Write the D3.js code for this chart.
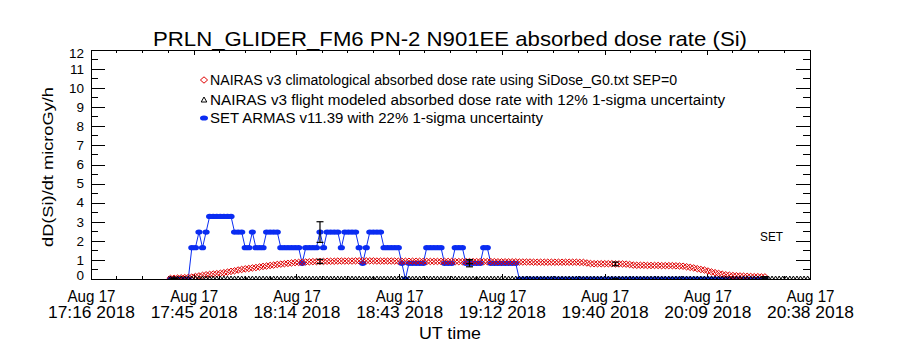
<!DOCTYPE html>
<html><head><meta charset="utf-8">
<script src="https://cdn.jsdelivr.net/npm/d3@7"></script>
<style>body{margin:0;background:#fff}svg{display:block}text{font-family:"Liberation Sans",Arial,Helvetica,sans-serif;fill:#000}</style>
</head><body><svg id="c" width="900" height="350"></svg>
<script>
// ---------- data ----------
const titleText = "PRLN_GLIDER_FM6 PN-2 N901EE absorbed dose rate (Si)";
const yTitle = "dD(Si)/dt microGy/h";
const xTitle = "UT time";
const legendLabels = [
  "NAIRAS v3 climatological absorbed dose rate using SiDose_G0.txt SEP=0",
  "NAIRAS v3 flight modeled absorbed dose rate with 12% 1-sigma uncertainty",
  "SET ARMAS v11.39 with 22% 1-sigma uncertainty"
];
const xTickTimes = ["2018-08-17T17:16:40Z","2018-08-17T17:45:31Z","2018-08-17T18:14:23Z","2018-08-17T18:43:14Z",
                    "2018-08-17T19:12:06Z","2018-08-17T19:40:57Z","2018-08-17T20:09:49Z","2018-08-17T20:38:40Z"];
const yTickValues = [0,1,2,3,4,5,6,7,8,9,10,11,12];
const seriesStart = "2018-08-17T17:39:00Z";   // one sample per minute
const climValues = [
  0.03,0.04,0.05,0.06,0.07,0.08,0.10,0.13,0.16,0.19,
  0.22,0.24,0.26,0.28,0.30,0.33,0.36,0.40,0.43,0.47,
  0.50,0.53,0.55,0.58,0.60,0.63,0.66,0.68,0.71,0.73,
  0.76,0.78,0.80,0.82,0.84,0.86,0.87,0.88,0.89,0.90,
  0.91,0.91,0.92,0.92,0.93,0.93,0.93,0.94,0.94,0.94,
  0.94,0.94,0.95,0.95,0.95,0.95,0.95,0.95,0.94,0.94,
  0.94,0.94,0.94,0.94,0.93,0.93,0.93,0.93,0.93,0.93,
  0.93,0.92,0.92,0.92,0.92,0.92,0.92,0.92,0.92,0.92,
  0.91,0.91,0.91,0.91,0.91,0.91,0.91,0.91,0.91,0.91,
  0.91,0.91,0.90,0.90,0.90,0.90,0.90,0.90,0.89,0.89,
  0.89,0.89,0.88,0.88,0.88,0.88,0.88,0.88,0.88,0.88,
  0.88,0.88,0.88,0.88,0.88,0.87,0.87,0.84,0.81,0.80,
  0.80,0.80,0.80,0.80,0.80,0.79,0.79,0.79,0.78,0.76,
  0.73,0.72,0.72,0.72,0.71,0.71,0.71,0.71,0.70,0.70,
  0.70,0.70,0.69,0.68,0.67,0.64,0.61,0.58,0.54,0.50,
  0.47,0.42,0.37,0.33,0.29,0.25,0.22,0.20,0.18,0.17,
  0.16,0.15,0.14,0.13,0.12,0.12,0.11,0.11
];
const flightValues = [
  0,0,0,0,0,0,0,0,0,0, 0,0,0,0,0,0,0,0,0,0, 0,0,0,0,0,0,0,0,0,0,
  0,0,0,0,0,0,0,0,0,0, 0,0,0,0,0,0,0,0,0,0, 0,0,0,0,0,0,0,0,0,0,
  0,0,0,0,0,0,0,0,0,0, 0,0,0,0,0,0,0,0,0,0, 0,0,0,0,0,0,0,0,0,0,
  0,0,0,0,0,0,0,0,0,0, 0,0,0,0,0,0,0,0,0,0, 0,0,0,0,0,0,0,0,0,0,
  0,0,0,0,0,0,0,0,0,0, 0,0,0,0,0,0,0,0,0,0, 0,0,0,0,0,0,0,0,0,0,
  0,0,0,0,0,0,0,0,0,0, 0,0,0,0,0,0,0,0,0,0, 0,0,0,0,0,0,0,0,0,0,
  0,0,0,0,0,0,0,0
];
const setValues = [
  0,0,0,0,0,0,1.64,1.64,2.46,1.64,
  2.46,3.28,3.28,3.28,3.28,3.28,3.28,3.28,2.46,2.46,
  2.46,1.64,1.64,2.46,1.64,1.64,1.64,2.46,2.46,2.46,
  2.46,1.64,1.64,1.64,1.64,1.64,1.64,0.82,1.64,1.64,
  1.64,1.64,2.46,1.64,2.46,2.46,2.46,2.46,1.64,2.46,
  2.46,2.46,2.46,1.64,0.82,1.64,2.46,2.46,2.46,2.46,
  1.64,1.64,1.64,1.64,1.64,0.82,0,0.82,0.82,0.82,
  0.82,0.82,1.64,1.64,1.64,1.64,1.64,0.82,0.82,0.82,
  1.64,1.64,1.64,0.82,0.82,0.82,0.82,0.82,1.64,1.64,
  0.82,0.82,0.82,0.82,0.82,0.82,0.82,0.82,0,0,
  0,0,0,0,0,0,0,0,0,0, 0,0,0,0,0,0,0,0,0,0, 0,0,0,0,0,0,0,0,0,0,
  0,0,0,0,0,0,0,0,0,0, 0,0,0,0,0,0,0,0,0,0, 0,0,0,0,0,0,0,0,0,0,
  0,0,0,0,0,0,0,0
];
const errorBarTimes = ["2018-08-17T17:40:00Z","2018-08-17T18:21:00Z","2018-08-17T19:03:00Z","2018-08-17T19:44:00Z","2018-08-17T20:26:00Z"];
const setUncert = 0.22, nairasUncert = 0.12;
const sideLabel = "SET";

// ---------- layout ----------
const L = 91, R = 810, T = 50, B = 279;
const svg = d3.select("#c");
const parse = s => new Date(s);
const t0 = parse(seriesStart).getTime();
const timeAt = i => new Date(t0 + i * 60000);
const ticks = xTickTimes.map(parse);

const x = d3.scaleUtc().domain([ticks[0], ticks[ticks.length - 1]]).range([L, R]);
const y = d3.scaleLinear().domain([0, 12]).range([B, T]);

const BLUE = "#0a2cf2", RED = "#e00000";

svg.append("defs").append("clipPath").attr("id", "clip")
  .append("rect").attr("x", L).attr("y", T).attr("width", R - L).attr("height", B - T);

// title
svg.append("text").attr("x", 450).attr("y", 46).attr("text-anchor", "middle")
  .attr("font-size", 21).attr("textLength", 594).attr("lengthAdjust", "spacingAndGlyphs").text(titleText);

// ---------- axes ----------
const fmtDay = d3.utcFormat("%b %d"), fmtTime = d3.utcFormat("%H:%M %Y");
const gx = svg.append("g").attr("transform", `translate(0,${B})`)
  .call(d3.axisBottom(x).tickValues(ticks).tickSize(-5).tickSizeOuter(0).tickFormat(""));
gx.selectAll(".tick text").each(function(d) {
  const t = d3.select(this).attr("dy", null).attr("y", 0).attr("font-size", 16).attr("fill", "#000");
  t.append("tspan").attr("x", 0).attr("y", 23).attr("textLength", 48).attr("lengthAdjust", "spacingAndGlyphs").text(fmtDay(d));
  t.append("tspan").attr("x", 0).attr("y", 39).attr("textLength", 87).attr("lengthAdjust", "spacingAndGlyphs").text(fmtTime(d));
});
const gxt = svg.append("g").attr("transform", `translate(0,${T})`)
  .call(d3.axisTop(x).tickValues(ticks).tickSize(-5).tickSizeOuter(0).tickFormat(""));

const gy = svg.append("g").attr("transform", `translate(${L},0)`)
  .call(d3.axisLeft(y).tickValues(yTickValues).tickSize(-14.4).tickSizeOuter(0).tickPadding(7));
gy.selectAll(".tick text").attr("font-size", 13.5).attr("fill", "#000")
  .attr("transform", d => d === 0 ? "translate(0,-4)" : d === 12 ? "translate(0,3.5)" : null);
const gyr = svg.append("g").attr("transform", `translate(${R},0)`)
  .call(d3.axisRight(y).tickValues(yTickValues).tickSize(-14.4).tickSizeOuter(0).tickFormat(""));
[gx, gxt, gy, gyr].forEach(g => {
  g.select(".domain").remove();
  g.attr("font-family", null).selectAll(".tick line").attr("stroke", "#000").attr("shape-rendering", "crispEdges");
});

// minor ticks
const minor = svg.append("g").attr("stroke", "#000").attr("shape-rendering", "crispEdges");
for (let k = 0; k < ticks.length - 1; k++) {
  for (let m = 1; m < 4; m++) {
    const xv = x(ticks[k]) + (x(ticks[k + 1]) - x(ticks[k])) * m / 4;
    minor.append("line").attr("x1", xv).attr("x2", xv).attr("y1", B).attr("y2", B - 3);
    minor.append("line").attr("x1", xv).attr("x2", xv).attr("y1", T).attr("y2", T + 3);
  }
}
d3.range(0.5, 12, 1).forEach(v => {
  minor.append("line").attr("x1", L).attr("x2", L + 7).attr("y1", y(v)).attr("y2", y(v));
  minor.append("line").attr("x1", R).attr("x2", R - 7).attr("y1", y(v)).attr("y2", y(v));
});

// frame
svg.append("rect").attr("x", L + 0.5).attr("y", T + 0.5).attr("width", R - L).attr("height", B - T)
  .attr("fill", "none").attr("stroke", "#000").attr("shape-rendering", "crispEdges");

// axis titles
svg.append("text").attr("transform", `translate(53,167) rotate(-90)`).attr("text-anchor", "middle")
  .attr("font-size", 15.5).attr("textLength", 160).attr("lengthAdjust", "spacingAndGlyphs").text(yTitle);
svg.append("text").attr("x", 450).attr("y", 339).attr("text-anchor", "middle")
  .attr("font-size", 16).attr("textLength", 62).attr("lengthAdjust", "spacingAndGlyphs").text(xTitle);

// ---------- data marks ----------
const plot = svg.append("g").attr("clip-path", "url(#clip)");
const setPts = setValues.map((v, i) => [timeAt(i), v]);
const climPts = climValues.map((v, i) => [timeAt(i), v]);
const flightPts = flightValues.map((v, i) => [timeAt(i), v]);

// SET ARMAS line + filled markers
plot.append("path").datum(setPts).attr("fill", "none").attr("stroke", BLUE).attr("stroke-width", 1)
  .attr("d", d3.line().x(d => x(d[0])).y(d => y(d[1])));
plot.append("g").selectAll("ellipse").data(setPts).join("ellipse")
  .attr("cx", d => x(d[0])).attr("cy", d => y(d[1])).attr("rx", 3.6).attr("ry", 2.6).attr("fill", BLUE);

// NAIRAS climatological: diamonds
const diamond = "M0,-3.2L3.6,0L0,3.2L-3.6,0Z";
plot.append("g").selectAll("path").data(climPts).join("path")
  .attr("transform", d => `translate(${x(d[0])},${y(d[1])})`).attr("d", diamond)
  .attr("fill", "none").attr("stroke", RED).attr("stroke-width", 1);

// NAIRAS flight modeled: triangles
const tri = "M0,-3L2.8,2L-2.8,2Z";
plot.append("g").selectAll("path").data(flightPts).join("path")
  .attr("transform", d => `translate(${x(d[0])},${y(d[1])})`).attr("d", tri)
  .attr("fill", "none").attr("stroke", "#000").attr("stroke-width", 1);

// error bars
const eb = plot.append("g").attr("stroke", "#000").attr("stroke-width", 1.2);
errorBarTimes.map(parse).forEach(t => {
  const i = Math.round((t.getTime() - t0) / 60000);
  [[setValues[i], setUncert], [climValues[i], nairasUncert]].forEach(([v, u]) => {
    const xv = x(t), y1 = y(v * (1 - u)), y2 = y(v * (1 + u));
    eb.append("line").attr("x1", xv).attr("x2", xv).attr("y1", y1).attr("y2", y2);
    eb.append("line").attr("x1", xv - 3.5).attr("x2", xv + 3.5).attr("y1", y1).attr("y2", y1);
    eb.append("line").attr("x1", xv - 3.5).attr("x2", xv + 3.5).attr("y1", y2).attr("y2", y2);
  });
});

// side label
svg.append("text").attr("x", 760).attr("y", 241).attr("font-size", 12)
  .attr("textLength", 23).attr("lengthAdjust", "spacingAndGlyphs").text(sideLabel);

// ---------- legend ----------
const legW = [467, 515, 333];
const legY = [80, 100, 118];
const lg = svg.append("g");
legendLabels.forEach((lab, k) => {
  const sy = legY[k];
  if (k === 0) lg.append("path").attr("transform", `translate(204,${sy})`).attr("d", diamond)
    .attr("fill", "none").attr("stroke", RED);
  if (k === 1) lg.append("path").attr("transform", `translate(204,${sy})`).attr("d", tri)
    .attr("fill", "none").attr("stroke", "#000");
  if (k === 2) lg.append("ellipse").attr("cx", 204).attr("cy", sy).attr("rx", 4).attr("ry", 2.6).attr("fill", BLUE);
  lg.append("text").attr("x", 210).attr("y", sy + 5).attr("font-size", 14)
    .attr("textLength", legW[k]).attr("lengthAdjust", "spacingAndGlyphs").text(lab);
});
</script>
</body></html>
